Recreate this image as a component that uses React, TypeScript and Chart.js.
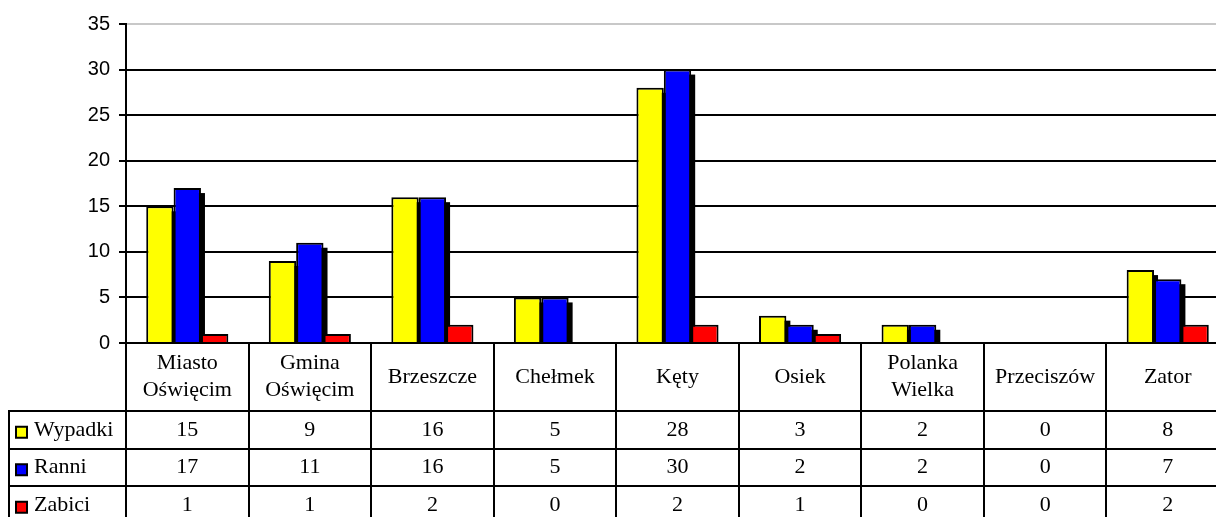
import React, { useEffect, useRef } from "react";
import { Chart, registerables } from "chart.js";

Chart.register(...registerables);

const categories: string[][] = [
  ["Miasto", "Oświęcim"],
  ["Gmina", "Oświęcim"],
  ["Brzeszcze"],
  ["Chełmek"],
  ["Kęty"],
  ["Osiek"],
  ["Polanka", "Wielka"],
  ["Przeciszów"],
  ["Zator"],
];
const seriesNames = ["Wypadki", "Ranni", "Zabici"];
const seriesColors = ["#ffff00", "#0000ff", "#ff0000"];
const wypadki = [15, 9, 16, 5, 28, 3, 2, 0, 8];
const ranni = [17, 11, 16, 5, 30, 2, 2, 0, 7];
const zabici = [1, 1, 2, 0, 2, 1, 0, 0, 2];
const yTicks = [0, 5, 10, 15, 20, 25, 30, 35];

const seriesValues = [wypadki, ranni, zabici];
const shadowed = [true, true, false];

const shadowPlugin = {
  id: "barShadow",
  beforeDatasetsDraw(chart: any) {
    const ctx = chart.ctx;
    const area = chart.chartArea;
    ctx.save();
    ctx.beginPath();
    ctx.rect(area.left, area.top, area.right - area.left, area.bottom - area.top);
    ctx.clip();
    ctx.fillStyle = "#000";
    chart.data.datasets.forEach((ds: any, di: number) => {
      if (!shadowed[di]) return;
      const meta = chart.getDatasetMeta(di);
      meta.data.forEach((bar: any, i: number) => {
        if (!ds.data[i]) return;
        const p = bar.getProps(["x", "y", "base", "width"], true);
        const l = p.x - p.width / 2 + 4;
        const t = p.y + 5;
        ctx.fillRect(l, t, p.width, p.base - t);
      });
    });
    ctx.restore();
  },
};

const tablePlugin = {
  id: "dataTable",
  afterDraw(chart: any) {
    const ctx = chart.ctx;
    const area = chart.chartArea;
    const n = categories.length;
    const catW = (area.right - area.left) / n;
    const top = area.bottom;
    const headerH = 68;
    const rowH = 37.5;
    const bottom = chart.height;
    const legendLeft = 9;
    ctx.save();
    ctx.strokeStyle = "#000";
    ctx.lineWidth = 2;
    ctx.beginPath();
    for (let i = 0; i <= n; i++) {
      const x = Math.round(area.left + i * catW);
      ctx.moveTo(x, top);
      ctx.lineTo(x, bottom);
    }
    ctx.moveTo(legendLeft, top + headerH);
    ctx.lineTo(legendLeft, bottom);
    for (let r = 0; r < 3; r++) {
      const y = Math.round(top + headerH + r * rowH);
      ctx.moveTo(legendLeft - 1, y);
      ctx.lineTo(area.right, y);
    }
    ctx.stroke();

    ctx.fillStyle = "#000";
    ctx.font = "22px 'Liberation Serif', 'Times New Roman', serif";
    ctx.textAlign = "center";
    ctx.textBaseline = "middle";
    categories.forEach((lines, i) => {
      const cx = area.left + (i + 0.5) * catW;
      const lh = 27;
      const cy = top + headerH / 2;
      lines.forEach((t, li) => {
        ctx.fillText(t, cx, cy + (li - (lines.length - 1) / 2) * lh);
      });
    });
    seriesValues.forEach((vals, r) => {
      const cy = top + headerH + (r + 0.5) * rowH;
      vals.forEach((v, i) => {
        const cx = area.left + (i + 0.5) * catW;
        ctx.fillText(String(v), cx, cy);
      });
      // legend key
      ctx.fillStyle = seriesColors[r];
      ctx.fillRect(16, cy - 3, 11, 11);
      ctx.lineWidth = 2;
      ctx.strokeRect(16, cy - 3, 11, 11);
      ctx.fillStyle = "#000";
      ctx.textAlign = "left";
      ctx.fillText(seriesNames[r], 34, cy);
      ctx.textAlign = "center";
    });
    ctx.restore();
  },
};

export default function App() {
  const ref = useRef<HTMLCanvasElement | null>(null);
  useEffect(() => {
    if (!ref.current) return;
    const chart = new Chart(ref.current, {
      type: "bar",
      data: {
        labels: categories.map((c) => c.join(" ")),
        datasets: seriesNames.map((name, i) => ({
          label: name,
          data: seriesValues[i],
          backgroundColor: seriesColors[i],
          borderColor: "#000",
          borderWidth: 2,
          borderSkipped: "bottom",
          categoryPercentage: 0.67,
          barPercentage: 1,
        })),
      },
      options: {
        animation: false,
        responsive: false,
        devicePixelRatio: 1,
        layout: { padding: { top: 24, left: 0, right: 0, bottom: 0 } },
        plugins: { legend: { display: false }, tooltip: { enabled: false } },
        scales: {
          x: {
            grid: { display: false },
            border: { display: true, color: "#000", width: 2 },
            ticks: { display: false },
            afterFit(scale: any) {
              scale.height = 174;
            },
          },
          y: {
            min: 0,
            max: 35,
            afterBuildTicks(scale: any) {
              scale.ticks = yTicks.map((v) => ({ value: v }));
            },
            ticks: {
              color: "#000",
              padding: 9,
              font: { family: "'Liberation Sans', Arial, sans-serif", size: 20 },
            },
            grid: {
              color: (c: any) => (c.tick && c.tick.value === 35 ? "#c8c8c8" : "#000"),
              lineWidth: 2,
              tickLength: 7,
              tickColor: "#000",
            },
            border: { display: true, color: "#000", width: 2 },
            afterFit(scale: any) {
              scale.width = 126;
            },
          },
        },
      },
      plugins: [shadowPlugin, tablePlugin],
    });
    return () => chart.destroy();
  }, []);
  return (
    <div style={{ position: "absolute", left: 0, top: 0, width: 1216, height: 517, overflow: "hidden", background: "#fff" }}>
      <canvas ref={ref} width={1229} height={517} style={{ width: 1229, height: 517, display: "block" }} />
    </div>
  );
}
